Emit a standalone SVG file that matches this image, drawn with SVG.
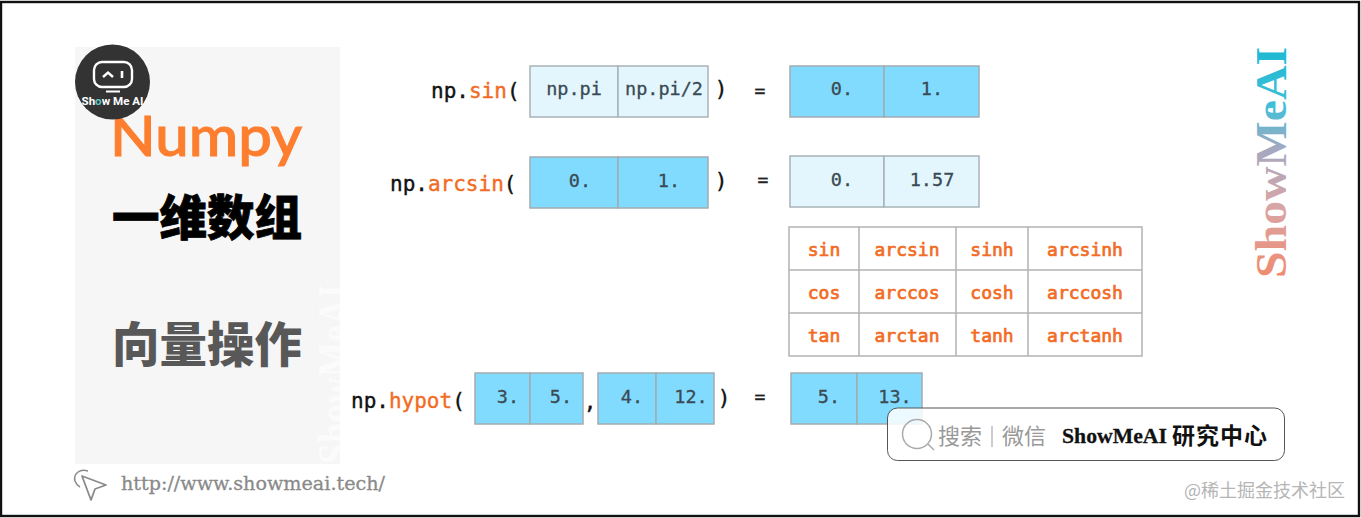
<svg xmlns="http://www.w3.org/2000/svg" width="1361" height="518" viewBox="0 0 1361 518">
<style>
.m{font-family:"DejaVu Sans Mono","Liberation Mono",monospace}
.f{font-size:21px;fill:#111;stroke:#111;stroke-width:.4}
.o{fill:#f26c25;stroke:#f26c25}
.v{font-size:18.5px;fill:#3a4a54;stroke:#3a4a54;stroke-width:.3;text-anchor:middle}
.e{font-size:18px;fill:#222;stroke:#222;stroke-width:.4;text-anchor:middle}
.t{font-size:18px;fill:#f26c25;stroke:#f26c25;stroke-width:.7;text-anchor:middle}
.c{fill:#81dbfe;stroke:#a3acb0;stroke-width:1.5}
.l{fill:#e4f6fd;stroke:#a9b3b7;stroke-width:1.5}
.g{fill:none;stroke:#b3b3b3;stroke-width:1.5}
.cjk{font-family:"Noto Sans CJK SC",sans-serif}
</style>
<defs>
<linearGradient id="sm" gradientUnits="userSpaceOnUse" x1="0" y1="0" x2="231" y2="0">
<stop offset="0" stop-color="#f08a6e"/><stop offset="0.3" stop-color="#d9a5a5"/><stop offset="0.55" stop-color="#a8a8c0"/><stop offset="0.75" stop-color="#3fc0d8"/><stop offset="1" stop-color="#1cb8d2"/>
</linearGradient>
<clipPath id="panel"><rect x="75" y="47" width="265" height="417"/></clipPath>
</defs>
<rect x="0" y="0" width="1361" height="518" fill="#fff"/>
<rect x="1" y="2" width="1358" height="514" fill="none" stroke="#111" stroke-width="2.4"/>

<g id="panel-title">
<rect x="75" y="47" width="265" height="417" fill="#f6f6f6"/>
<g clip-path="url(#panel)"><text transform="translate(351,464) rotate(-90)" font-family="Liberation Serif,serif" font-weight="700" font-size="48" fill="#fbfbfb" textLength="180" lengthAdjust="spacingAndGlyphs">ShowMeAI</text></g>
<text x="110" y="156" font-family="Lato,sans-serif" font-size="55" font-weight="500" fill="#fd7e2e" stroke="#fd7e2e" stroke-width="1" textLength="192" lengthAdjust="spacingAndGlyphs">Numpy</text>
<text x="112" y="235" class="cjk" font-size="47.5" font-weight="900" fill="#000" stroke="#000" stroke-width=".8">一维数组</text>
<text x="112" y="362" class="cjk" font-size="47.5" font-weight="900" fill="#585858">向量操作</text>
</g>

<g id="logo">
<circle cx="112.500" cy="82" r="37.500" fill="#333"/>
<rect x="94" y="62" width="38" height="25" rx="8" fill="none" stroke="#fff" stroke-width="2.400"/>
<path d="M103 77l5-4.500 5 4.500" fill="none" stroke="#fff" stroke-width="2.400"/>
<path d="M122 71v7" fill="none" stroke="#fff" stroke-width="2.600"/>
<path d="M106 91.500h14" fill="none" stroke="#fff" stroke-width="2"/>
<text x="81.500" y="105" font-family="Roboto,sans-serif" font-size="11" font-weight="700" fill="#fff" textLength="62" lengthAdjust="spacingAndGlyphs">Sh<tspan fill="#5cc4c4">o</tspan>w Me AI</text>
</g>

<g id="row-sin">
<text x="431" y="98" class="m f">np.<tspan class="o">sin</tspan>(</text>
<rect x="530" y="66" width="88" height="51" class="l"/><rect x="618" y="66" width="90" height="51" class="l"/>
<text x="574" y="95" class="m v">np.pi</text><text x="664" y="95" class="m v">np.pi/2</text>
<text x="721" y="96" class="m f" text-anchor="middle">)</text>
<text x="760" y="97" class="m e">=</text>
<rect x="790" y="66" width="94" height="51" class="c"/><rect x="884" y="66" width="95" height="51" class="c"/>
<text x="842" y="95" class="m v">0.</text><text x="932" y="95" class="m v">1.</text>
</g>

<g id="row-arcsin">
<text x="390" y="191" class="m f">np.<tspan class="o">arcsin</tspan>(</text>
<rect x="530" y="157" width="88" height="51" class="c"/><rect x="618" y="157" width="90" height="51" class="c"/>
<text x="580" y="187" class="m v">0.</text><text x="669" y="187" class="m v">1.</text>
<text x="721" y="188" class="m f" text-anchor="middle">)</text>
<text x="763" y="186" class="m e">=</text>
<rect x="790" y="156" width="94" height="51" class="l"/><rect x="884" y="156" width="95" height="51" class="l"/>
<text x="842" y="186" class="m v">0.</text><text x="932" y="186" class="m v">1.57</text>
</g>

<g id="function-table">
<rect x="789" y="227" width="353" height="129" class="g"/>
<path d="M859 227v129M956 227v129M1028 227v129M789 270h353M789 313h353" class="g"/>
<text x="824" y="256" class="m t">sin</text><text x="907" y="256" class="m t">arcsin</text><text x="992" y="256" class="m t">sinh</text><text x="1085" y="256" class="m t">arcsinh</text>
<text x="824" y="299" class="m t">cos</text><text x="907" y="299" class="m t">arccos</text><text x="992" y="299" class="m t">cosh</text><text x="1085" y="299" class="m t">arccosh</text>
<text x="824" y="342" class="m t">tan</text><text x="907" y="342" class="m t">arctan</text><text x="992" y="342" class="m t">tanh</text><text x="1085" y="342" class="m t">arctanh</text>
</g>

<g id="row-hypot">
<text x="351" y="408" class="m f">np.<tspan class="o">hypot</tspan>(</text>
<rect x="475" y="373" width="55" height="51" class="c"/><rect x="530" y="373" width="53" height="51" class="c"/>
<text x="508" y="403" class="m v">3.</text><text x="561" y="403" class="m v">5.</text>
<text x="590" y="409" class="m f" text-anchor="middle">,</text>
<rect x="598" y="373" width="58" height="51" class="c"/><rect x="656" y="373" width="58" height="51" class="c"/>
<text x="632" y="403" class="m v">4.</text><text x="691" y="403" class="m v">12.</text>
<text x="724" y="405" class="m f" text-anchor="middle">)</text>
<text x="760" y="403" class="m e">=</text>
<rect x="791" y="373" width="66" height="51" class="c"/><rect x="857" y="373" width="65" height="51" class="c"/>
<text x="829" y="403" class="m v">5.</text><text x="895" y="403" class="m v">13.</text>
</g>

<g id="search-badge">
<rect x="887.500" y="408" width="397" height="52.500" rx="10" fill="#fff" fill-opacity="0.85" stroke="#555" stroke-width="1"/>
<circle cx="917" cy="434" r="14.500" fill="none" stroke="#aaa" stroke-width="1.500"/>
<path d="M928 444l6 6" fill="none" stroke="#aaa" stroke-width="1.500"/>
<text x="938" y="444" class="cjk" font-size="22" fill="#999">搜索</text>
<path d="M992 426v21" stroke="#aaa" stroke-width="1.200"/>
<text x="1002" y="444" class="cjk" font-size="22" fill="#999">微信</text>
<text x="1062" y="443" font-family="Liberation Serif,serif" font-weight="700" font-size="22" fill="#111" stroke="#111" stroke-width=".3" textLength="105" lengthAdjust="spacingAndGlyphs">ShowMeAI</text>
<text x="1172" y="444" class="cjk" font-size="23" font-weight="700" fill="#111" letter-spacing="1">研究中心</text>
</g>

<g id="url">
<path d="M88 471c-8-3-15 3-13 10 1 3 3 5 5 6" fill="none" stroke="#8a8a8a" stroke-width="1.500"/>
<path d="M82 476l24 9-11 4-4 11z" fill="none" stroke="#8a8a8a" stroke-width="1.800" stroke-linejoin="round"/>
<text x="121" y="490" font-family="DejaVu Serif,serif" font-size="18.500" fill="#8a8a8a" stroke="#8a8a8a" stroke-width=".3" textLength="264" lengthAdjust="spacingAndGlyphs">http://www.showmeai.tech/</text>
</g>

<g id="brand-vertical">
<text transform="translate(1286,278) rotate(-90)" font-family="Liberation Serif,serif" font-weight="700" font-size="45" fill="url(#sm)" textLength="231" lengthAdjust="spacingAndGlyphs">ShowMeAI</text>
</g>

<g id="credit">
<text x="1184" y="497" class="cjk" font-size="18" fill="#b5b5b5">@稀土掘金技术社区</text>
</g>
</svg>
